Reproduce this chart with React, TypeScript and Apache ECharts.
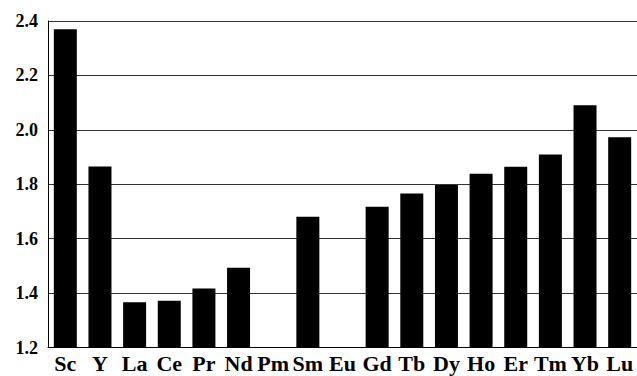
import React, { useEffect, useRef } from "react";
import * as echarts from "echarts";

const elements = ["Sc", "Y", "La", "Ce", "Pr", "Nd", "Pm", "Sm", "Eu", "Gd", "Tb", "Dy", "Ho", "Er", "Tm", "Yb", "Lu"];
const values: (number | null)[] = [2.37, 1.865, 1.366, 1.372, 1.417, 1.493, null, 1.681, null, 1.717, 1.766, 1.797, 1.839, 1.864, 1.909, 2.09, 1.973];
const yMin = 1.2;
const yMax = 2.4;
const yStep = 0.2;

export default function App() {
  const ref = useRef<HTMLDivElement>(null);

  useEffect(() => {
    if (!ref.current) return;
    const chart = echarts.init(ref.current, null, { renderer: "svg" });
    const font = "'Liberation Serif', 'Times New Roman', serif";
    chart.setOption({
      animation: false,
      backgroundColor: "#ffffff",
      grid: { left: 48, right: 0, top: 21, bottom: 28.5, containLabel: false },
      xAxis: {
        type: "category",
        data: elements,
        axisLine: { show: true, lineStyle: { color: "#000", width: 1 } },
        axisTick: { show: false },
        axisLabel: {
          interval: 0,
          margin: 5,
          color: "#000",
          fontFamily: font,
          fontWeight: "bold",
          fontSize: 22,
        },
      },
      yAxis: {
        type: "value",
        min: yMin,
        max: yMax,
        interval: yStep,
        axisLine: { show: true, lineStyle: { color: "#000", width: 1 } },
        axisTick: { show: false },
        splitLine: { show: true, lineStyle: { color: "#333", width: 1 } },
        axisLabel: {
          margin: 10,
          color: "#000",
          fontFamily: font,
          fontWeight: "bold",
          fontSize: 18,
          formatter: (v: number) => v.toFixed(1),
        },
      },
      series: [
        {
          type: "bar",
          data: values,
          barWidth: 23,
          itemStyle: { color: "#000" },
        },
      ],
    });
    return () => chart.dispose();
  }, []);

  return (
    <div
      ref={ref}
      style={{ position: "fixed", left: 0, top: 0, width: 637, height: 376 }}
    />
  );
}
